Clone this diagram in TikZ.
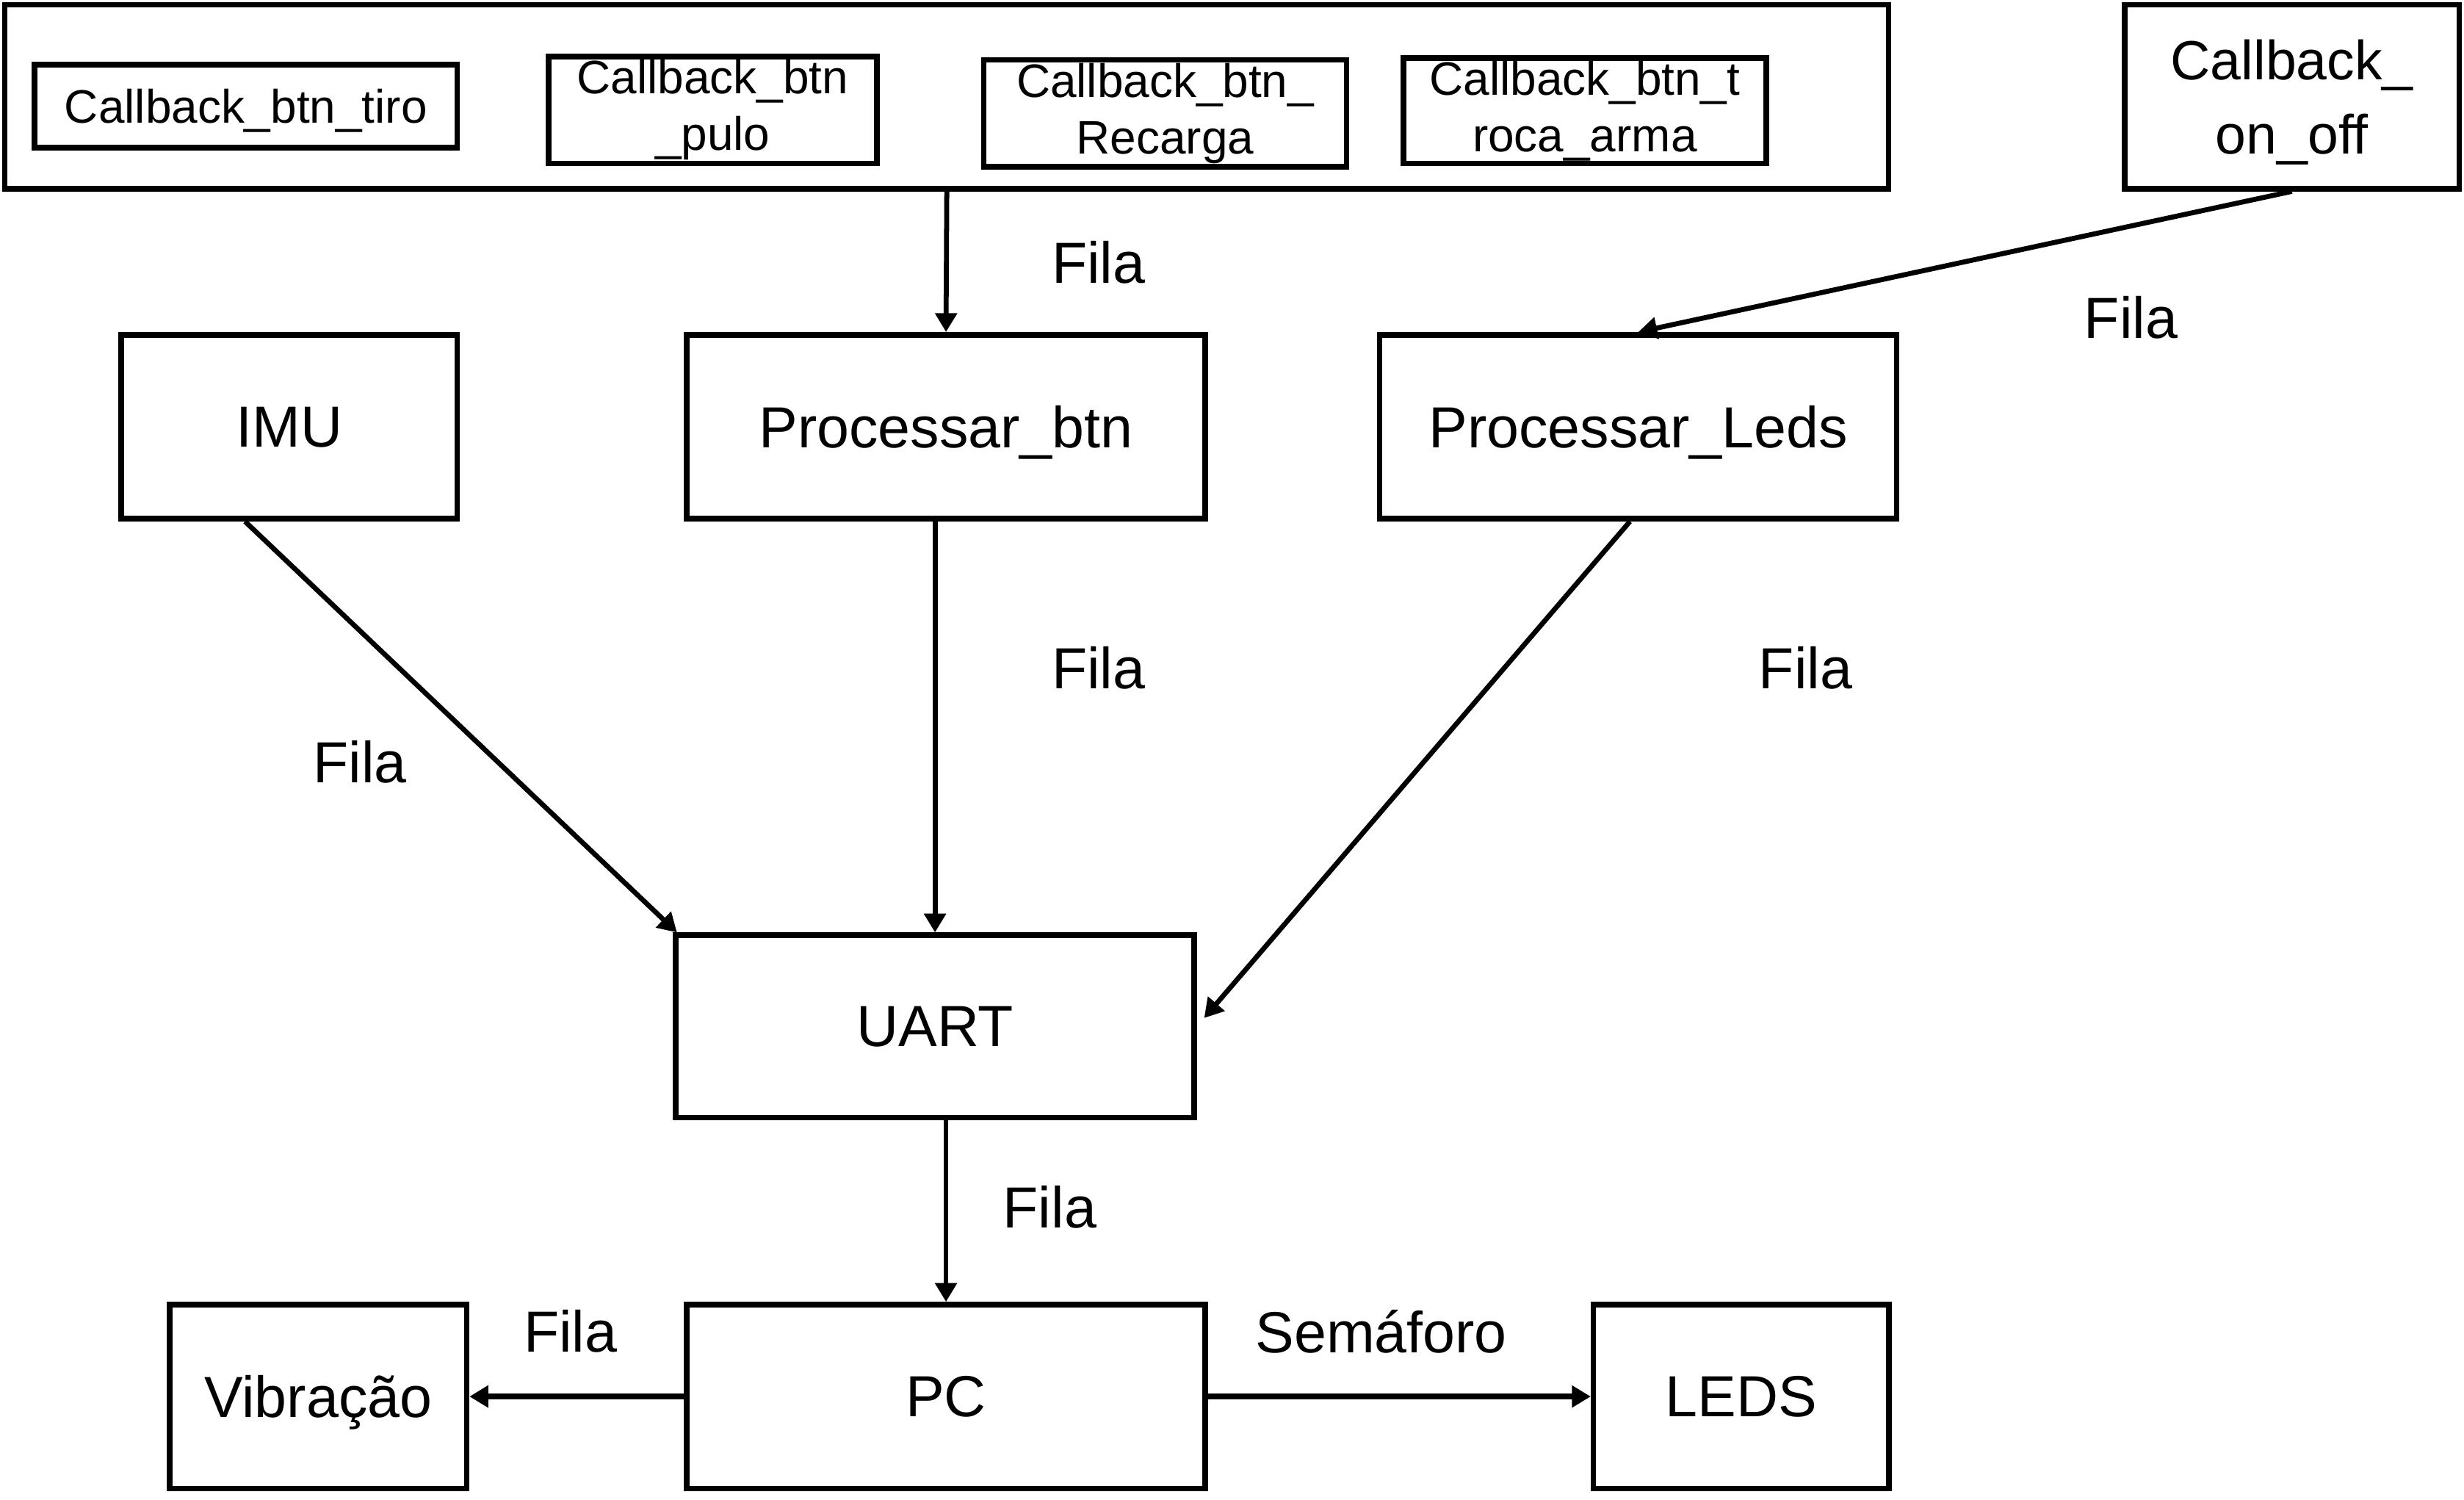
\documentclass[tikz,border=0pt]{standalone}
\usepackage{fontspec}
\setmainfont{Liberation Sans}
\usetikzlibrary{arrows.meta}

\begin{document}
\begin{tikzpicture}[x=0.02cm, y=-0.02cm,
        box/.style={draw, line width=2pt, minimum height=2.34cm, inner sep=0pt, align=center, font=\fontsize{21pt}{25pt}\selectfont},
        tarefa/.style={box, text depth=0pt},
        cbbox/.style={box, minimum height=1.36cm, font=\fontsize{17pt}{20.5pt}\selectfont},
        seta/.style={-{Triangle[length=0.24cm, width=0.27cm]}, line width=1.8pt},
        rotulo/.style={inner sep=0pt, font=\fontsize{21pt}{25pt}\selectfont}]
        \useasboundingbox (0,0) rectangle (1568,954);

        % callbacks
        \node[box, minimum width=23.98cm] (grp) at (602.5,61.5) {};
        \node[cbbox, text depth=0pt, minimum width=5.38cm, minimum height=1.06cm] (tiro) at (156.5,67.5) {Callback\_btn\_tiro};
        \node[cbbox, minimum width=4.18cm] (pulo) at (453.5,70) {Callback\_btn\\\_pulo};
        \node[cbbox, minimum width=4.62cm] (recarga) at (741.5,72) {Callback\_btn\_\\Recarga};
        \node[cbbox, minimum width=4.62cm, minimum height=1.34cm] (troca) at (1008.5,70.5) {Callback\_btn\_t\\roca\_arma};
        \node[tarefa, minimum width=4.26cm, font=\fontsize{20pt}{26.8pt}\selectfont] (onoff) at (1458.5,61.5) {Callback\_\\on\_off};

        % tasks
        \node[tarefa, minimum width=4.28cm] (imu) at (184,271.5) {IMU};
        \node[tarefa, minimum width=6.6cm] (pbtn) at (602,271.5) {Processar\_btn};
        \node[tarefa, minimum width=6.58cm] (pleds) at (1042.5,271.5) {Processar\_Leds};
        \node[tarefa, minimum width=6.6cm, minimum height=2.32cm] (uart) at (595,653) {UART};
        \node[tarefa, minimum width=3.78cm] (vib) at (202.5,888.5) {Vibração};
        \node[tarefa, minimum width=6.6cm] (pc) at (602,888.5) {PC};
        \node[tarefa, minimum width=3.76cm] (leds) at (1108,888.5) {LEDS};

        % ligacoes
        \draw[seta] (grp.south) -- (pbtn.north);
        \draw[seta] (onoff.south) -- (pleds.north);
        \draw[seta] (imu.245) -- (uart.160);
        \draw[seta] (pbtn.south -| uart.north) -- (uart.north);
        \draw[seta, shorten >=0.14cm] (pleds.265) -- (uart.east);
        \draw[seta] (uart.south -| pc.north) -- (pc.north);
        \draw[seta, line width=2pt] (pc.west) -- (vib.east);
        \draw[seta, line width=2pt] (pc.east) -- (leds.west);

        \node[rotulo] (f1) at (699,167) {Fila};
        \node[rotulo] (f2) at (1356,202) {Fila};
        \node[rotulo] (f3) at (229,485) {Fila};
        \node[rotulo] (f4) at (699,425) {Fila};
        \node[rotulo] (f5) at (1149,425) {Fila};
        \node[rotulo] (f6) at (668,768) {Fila};
        \node[rotulo] (f7) at (363,847) {Fila};
        \node[rotulo] (sem) at (879,847) {Semáforo};
    \end{tikzpicture}
\end{document}
